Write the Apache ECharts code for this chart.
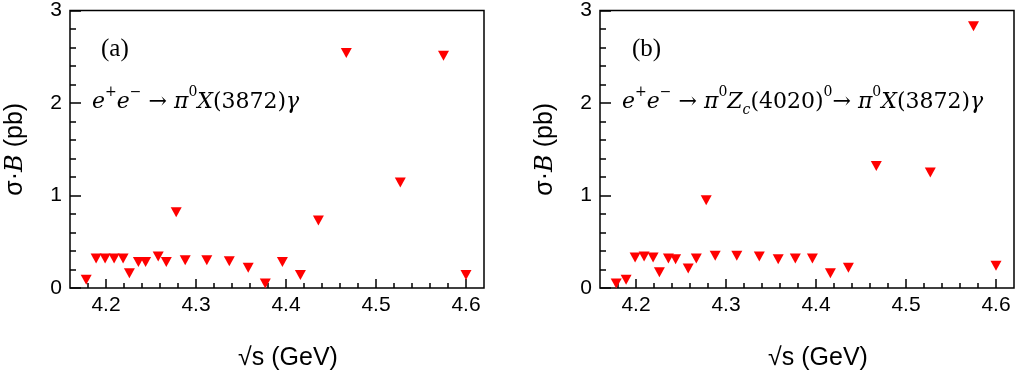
<!DOCTYPE html>
<html>
<head>
<meta charset="utf-8">
<script src="https://cdn.jsdelivr.net/npm/echarts@6/dist/echarts.min.js"></script>
<style>
  html, body { margin: 0; padding: 0; background: #fff; }
  #chart { width: 1024px; height: 377px; }
</style>
</head>
<body>
<div id="chart"></div>
<script>
// centre-of-mass energies (GeV)
const energies = [4.178, 4.189, 4.199, 4.209, 4.219, 4.226, 4.236, 4.244, 4.258, 4.267, 4.278, 4.288,
  4.312, 4.337, 4.358, 4.377, 4.396, 4.416, 4.436, 4.467, 4.527, 4.575, 4.600];
// (a) e+e- -> pi0 X(3872) gamma, upper limits (pb)
const sigmaA = [0.09, 0.32, 0.32, 0.32, 0.32, 0.16, 0.28, 0.28, 0.34, 0.28, 0.82, 0.30,
  0.30, 0.29, 0.22, 0.05, 0.28, 0.14, 0.73, 2.54, 1.14, 2.51, 0.14];
// (b) e+e- -> pi0 Zc(4020)0 -> pi0 X(3872) gamma, upper limits (pb)
const sigmaB = [0.05, 0.09, 0.33, 0.34, 0.33, 0.17, 0.32, 0.31, 0.21, 0.32, 0.95, 0.35,
  0.35, 0.34, 0.31, 0.32, 0.32, 0.16, 0.22, 1.32, 1.25, 2.83, 0.24];

const xMajorTicks = [4.2, 4.3, 4.4, 4.5, 4.6];
const xMinorTicks = [4.18, 4.22, 4.24, 4.26, 4.28, 4.32, 4.34, 4.36, 4.38, 4.42, 4.44, 4.46, 4.48,
  4.52, 4.54, 4.56, 4.58];
const xRange = [4.16, 4.62];
const yRange = [0, 3];

const chart = echarts.init(document.getElementById('chart'));

const panels = [
  { left: 70, data: sigmaA },
  { left: 600, data: sigmaB }
];

const labelFont = { fontFamily: 'Liberation Sans', fontSize: 21, color: '#000' };

const grid = [];
const xAxis = [];
const yAxis = [];
const series = [];

panels.forEach((p, i) => {
  grid.push({
    left: p.left, top: 10, width: 414, height: 278,
    show: true, borderColor: '#000', borderWidth: 1.5, backgroundColor: 'transparent'
  });
  // main x axis: major ticks + labels + name
  xAxis.push({
    type: 'value', gridIndex: i, min: xRange[0], max: xRange[1], position: 'bottom',
    splitLine: { show: false },
    axisLine: { show: false },
    axisTick: { show: true, inside: true, length: 9, customValues: xMajorTicks,
      lineStyle: { color: '#000', width: 1.5 } },
    axisLabel: Object.assign({ margin: 7, customValues: xMajorTicks,
      formatter: v => v.toFixed(1) }, labelFont),
    name: '\u221As (GeV)', nameLocation: 'middle', nameGap: 58,
    nameTextStyle: { fontFamily: 'Liberation Sans', fontSize: 25, color: '#000', padding: [0, 0, 0, 22] }
  });
  // overlay axis for minor ticks
  xAxis.push({
    type: 'value', gridIndex: i, min: xRange[0], max: xRange[1], position: 'bottom',
    splitLine: { show: false },
    axisLine: { show: false },
    axisLabel: { show: false },
    axisTick: { show: true, inside: true, length: 5, customValues: xMinorTicks,
      lineStyle: { color: '#000', width: 1.5 } }
  });
  yAxis.push({
    type: 'value', gridIndex: i, min: yRange[0], max: yRange[1], interval: 1,
    splitLine: { show: false },
    axisLine: { show: false },
    axisTick: { show: true, inside: true, length: 11, lineStyle: { color: '#000', width: 1.5 } },
    minorTick: { show: true, splitNumber: 5, length: 6, lineStyle: { color: '#000', width: 1.5 } },
    axisLabel: Object.assign({ margin: 8 }, labelFont),
    name: '\u03C3\u00B7{b|B} (pb)', nameLocation: 'middle', nameGap: 42,
    nameTextStyle: {
      fontFamily: 'Liberation Sans', fontSize: 25, color: '#000',
      rich: { b: { fontFamily: 'DejaVu Serif', fontStyle: 'italic', fontSize: 24 } }
    }
  });
  series.push({
    type: 'scatter', xAxisIndex: i * 2, yAxisIndex: i,
    symbol: 'triangle', symbolRotate: 180, symbolSize: [11, 10],
    itemStyle: { color: '#f00', opacity: 1 },
    data: energies.map((e, k) => [e, p.data[k]])
  });
});

const serif = 'DejaVu Serif';
const richMath = {
  n: { fontFamily: serif, fontSize: 22, color: '#000', lineHeight: 28, verticalAlign: 'bottom' },
  i: { fontFamily: serif, fontStyle: 'italic', fontSize: 22, color: '#000', lineHeight: 28, verticalAlign: 'bottom' },
  sup: { fontFamily: serif, fontSize: 14, color: '#000', lineHeight: 28, verticalAlign: 'top' },
  sub: { fontFamily: serif, fontStyle: 'italic', fontSize: 14, color: '#000', lineHeight: 28, verticalAlign: 'bottom', padding: [0, 0, -4, 0] }
};

const formulaA = '{i|e}{sup|+}{i|e}{sup|\u2212}{n| \u2192 }{i|\u03C0}{sup|0}{i|X}{n|(3872)}{i|\u03B3}';
const formulaB = '{i|e}{sup|+}{i|e}{sup|\u2212}{n| \u2192 }{i|\u03C0}{sup|0}{i|Z}{sub|c}{n|(4020)}{sup|0}{n|\u2192 }{i|\u03C0}{sup|0}{i|X}{n|(3872)}{i|\u03B3}';

const graphic = [
  { type: 'text', left: 101, top: 37, style: { text: '(a)', font: '25px "Liberation Serif"', fill: '#000' } },
  { type: 'text', left: 92, top: 85, style: { text: formulaA, rich: richMath } },
  { type: 'text', left: 632, top: 37, style: { text: '(b)', font: '25px "Liberation Serif"', fill: '#000' } },
  { type: 'text', left: 622, top: 85, style: { text: formulaB, rich: richMath } }
];

chart.setOption({
  animation: false,
  backgroundColor: '#fff',
  grid: grid,
  xAxis: xAxis,
  yAxis: yAxis,
  series: series,
  graphic: graphic
});
</script>
</body>
</html>
